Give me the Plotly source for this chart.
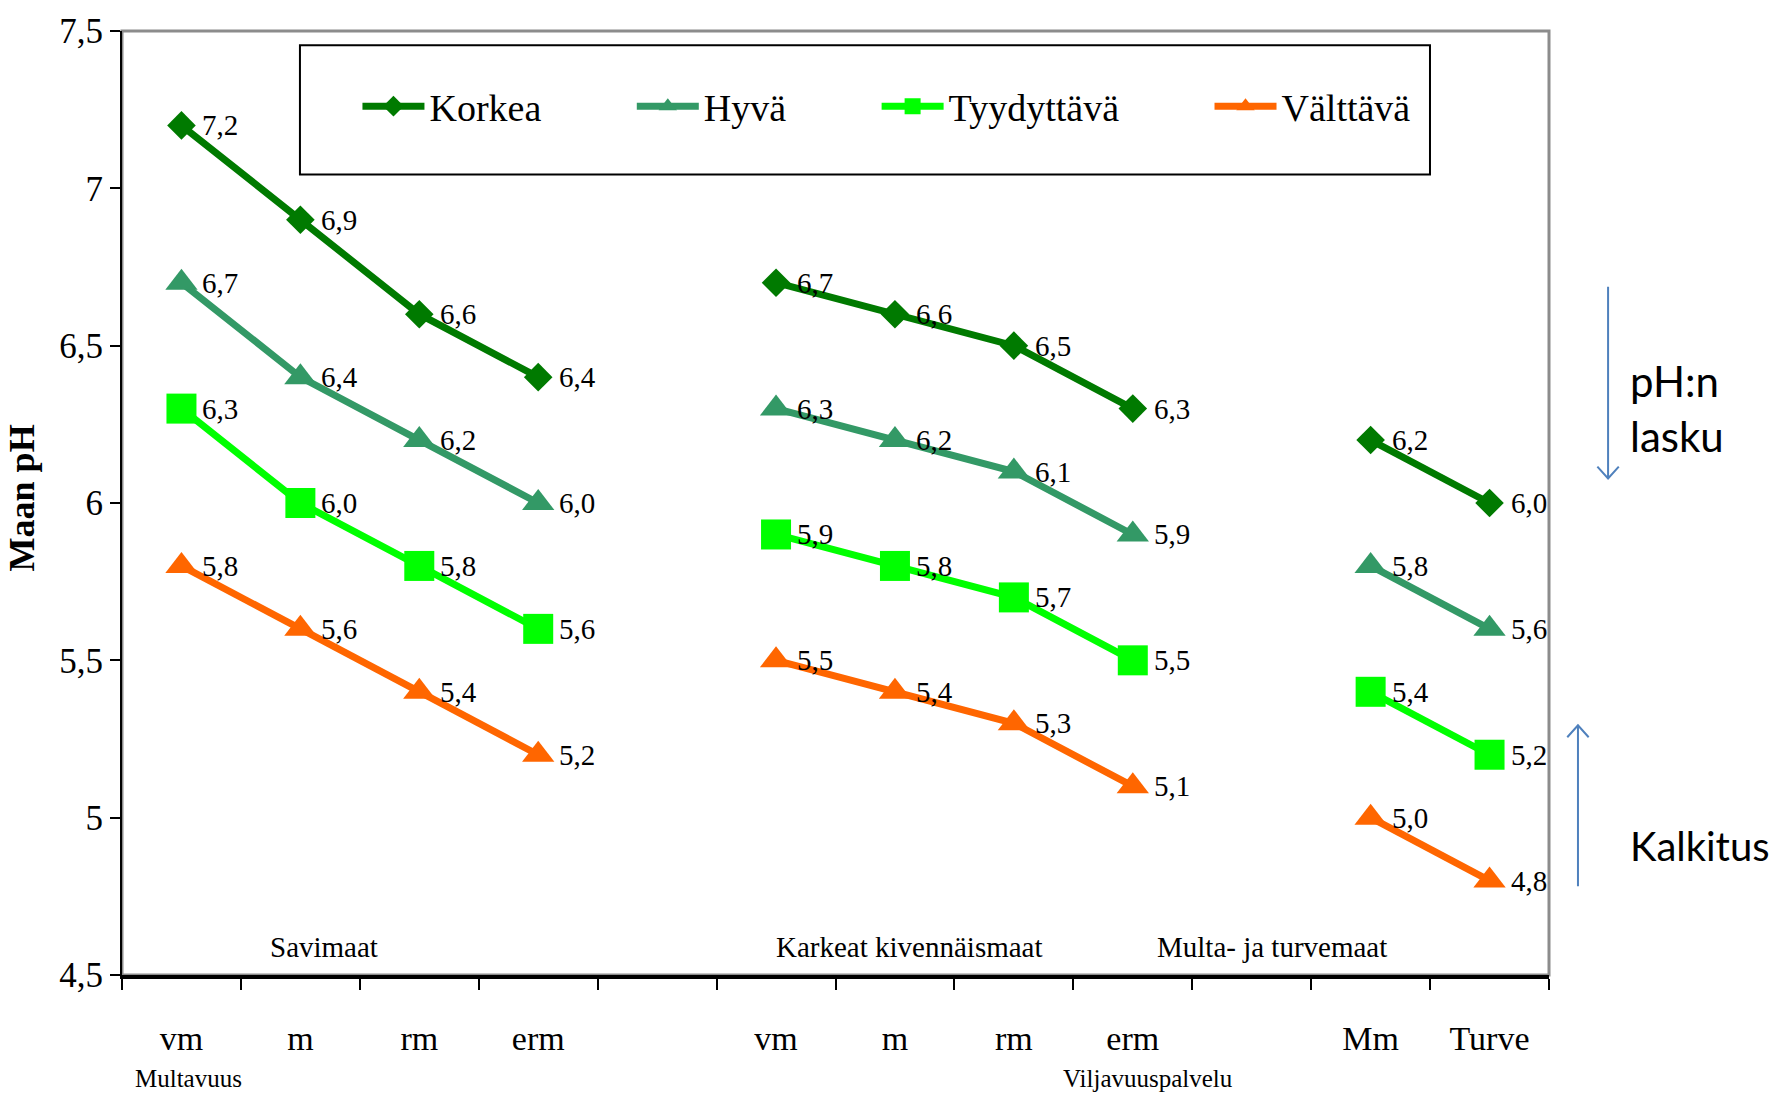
import plotly.graph_objects as go

# Soil pH target levels by soil type and humus class
categories = ["vm", "m", "rm", "erm", "", "vm", "m", "rm", "erm", "", "Mm", "Turve"]
korkea = [7.2, 6.9, 6.6, 6.4, None, 6.7, 6.6, 6.5, 6.3, None, 6.2, 6.0]
hyva = [6.7, 6.4, 6.2, 6.0, None, 6.3, 6.2, 6.1, 5.9, None, 5.8, 5.6]
tyydyttava = [6.3, 6.0, 5.8, 5.6, None, 5.9, 5.8, 5.7, 5.5, None, 5.4, 5.2]
valttava = [5.8, 5.6, 5.4, 5.2, None, 5.5, 5.4, 5.3, 5.1, None, 5.0, 4.8]
y_ticks = [4.5, 5.0, 5.5, 6.0, 6.5, 7.0, 7.5]
group_names = ["Savimaat", "Karkeat kivennäismaat", "Multa- ja turvemaat"]
group_pos = [1.2, 6.12, 9.17]

SERIF = "Liberation Serif, Times New Roman, serif"
SANS = "Lato, Calibri, sans-serif"
LEGEND_PAD = "\u00a0" * 9  # spacing after each legend entry

series = [
    ("Korkea", korkea, "#007A00", "diamond", 22),
    ("Hyvä", hyva, "#339966", "triangle-up", 28),
    ("Tyydyttävä", tyydyttava, "#00FF00", "square", 30),
    ("Välttävä", valttava, "#FF6600", "triangle-up", 28),
]

x_idx = list(range(len(categories)))

fig = go.Figure()
annotations = []
for name, vals, color, symbol, msize in series:
    fig.add_trace(go.Scatter(
        x=x_idx, y=vals, name=name + LEGEND_PAD, mode="lines+markers",
        line=dict(color=color, width=7),
        marker=dict(symbol=symbol, size=msize, color=color, line=dict(width=0)),
        connectgaps=False, cliponaxis=False,
    ))
    for xi, v in zip(x_idx, vals):
        if v is None:
            continue
        annotations.append(dict(
            x=xi, y=v, xref="x", yref="y", text=f"{v:.1f}".replace(".", ","),
            showarrow=False, xanchor="left", yanchor="middle", xshift=19,
            font=dict(family=SERIF, size=29, color="black"),
        ))

# soil group captions inside the plot
for gname, gx in zip(group_names, group_pos):
    annotations.append(dict(
        x=gx, y=4.59, xref="x", yref="y", text=gname, showarrow=False,
        xanchor="center", yanchor="middle",
        font=dict(family=SERIF, size=29, color="black"),
    ))

# captions under the category axis
annotations.append(dict(x=0.055, y=-0.11, xref="x", yref="paper", text="Multavuus",
                        showarrow=False, xanchor="center", yanchor="middle",
                        font=dict(family=SERIF, size=25, color="black")))
annotations.append(dict(x=8.13, y=-0.11, xref="x", yref="paper", text="Viljavuuspalvelu",
                        showarrow=False, xanchor="center", yanchor="middle",
                        font=dict(family=SERIF, size=25, color="black")))

# y-axis title
annotations.append(dict(x=-0.07, y=0.505, xref="paper", yref="paper", text="<b>Maan pH</b>",
                        showarrow=False, textangle=-90, xanchor="center", yanchor="middle",
                        font=dict(family=SERIF, size=36, color="black")))

# side notes
for txt, yy, sz in [("pH:n", 0.629, 42), ("lasku", 0.571, 42), ("Kalkitus", 0.137, 40)]:
    annotations.append(dict(x=1.0555, y=yy, xref="paper", yref="paper", text=txt,
                            showarrow=False, xanchor="left", yanchor="middle",
                            font=dict(family=SANS, size=sz, color="black")))

arrow_col = "#4F81BD"
hx, hy = 0.0075, 0.0126
shapes = [
    # grey frame (top/right)
    dict(type="rect", xref="paper", yref="paper", x0=0, x1=1, y0=0, y1=1,
         line=dict(color="#8C8C8C", width=3), layer="below"),
    # legend frame
    dict(type="rect", xref="paper", yref="paper", x0=0.1247, x1=0.9166, y0=0.848, y1=0.985,
         line=dict(color="black", width=2), fillcolor="white", layer="below"),
    # downward arrow
    dict(type="path", xref="paper", yref="paper",
         path=f"M 1.0414 0.729 L 1.0414 0.526 M {1.0414 - hx} {0.526 + hy} L 1.0414 0.526 L {1.0414 + hx} {0.526 + hy}",
         line=dict(color=arrow_col, width=2)),
    # upward arrow
    dict(type="path", xref="paper", yref="paper",
         path=f"M 1.0203 0.094 L 1.0203 0.2645 M {1.0203 - hx} {0.2645 - hy} L 1.0203 0.2645 L {1.0203 + hx} {0.2645 - hy}",
         line=dict(color=arrow_col, width=2)),
]

fig.update_layout(
    width=1787, height=1096,
    margin=dict(l=122, r=238, t=26, b=121),
    paper_bgcolor="white", plot_bgcolor="white",
    showlegend=True,
    legend=dict(orientation="h", x=0.165, y=0.92, xanchor="left", yanchor="middle",
                bgcolor="rgba(0,0,0,0)", borderwidth=0, itemwidth=62,
                font=dict(family=SERIF, size=38, color="black")),
    xaxis=dict(
        range=[-0.5, len(categories) - 0.5], tickmode="array", tickvals=x_idx,
        ticktext=categories, ticks="", showgrid=False, zeroline=False,
        showline=True, linecolor="black", linewidth=4,
        ticklabelstandoff=30,
        tickfont=dict(family=SERIF, size=34, color="black"),
        minor=dict(tickmode="array", tickvals=[i - 0.5 for i in range(len(categories) + 1)],
                   ticks="outside", ticklen=11, tickwidth=2, tickcolor="black", showgrid=False),
    ),
    yaxis=dict(
        range=[4.5, 7.5], tickmode="array", tickvals=y_ticks,
        ticktext=[f"{v:g}".replace(".", ",") for v in y_ticks],
        ticks="outside", ticklen=10, tickwidth=2, tickcolor="black",
        showgrid=False, zeroline=False, showline=True, linecolor="black", linewidth=2,
        ticklabelstandoff=0,
        tickfont=dict(family=SERIF, size=35, color="black"),
    ),
    annotations=annotations,
    shapes=shapes,
)

fig.write_html("out.html")
